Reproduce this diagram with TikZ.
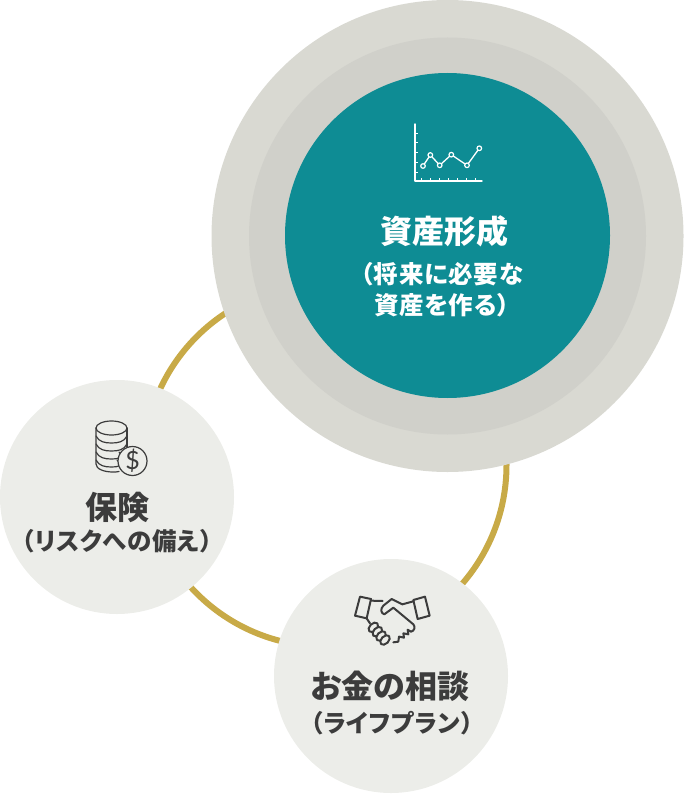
\documentclass[tikz,border=0pt]{standalone}
\usepackage{fontspec}
\setmainfont{Noto Sans CJK JP}[RawFeature=+palt]
\newfontfamily\subfont{Noto Sans CJK JP}[RawFeature=+palt,LetterSpace=3]
\newfontfamily\signfont{Lato}
\usepackage{xcolor}
\usepackage{tikz}
\definecolor{outerc}{HTML}{D9D9D2}
\definecolor{midc}{HTML}{D0D0CA}
\definecolor{tealc}{HTML}{0E8C94}
\definecolor{softc}{HTML}{ECEDE9}
\definecolor{goldc}{HTML}{C8AA47}
\definecolor{inkc}{HTML}{3C3C3C}
\tikzset{ disc/.style = {circle, inner sep=0pt, minimum size=#1} }
\tikzset{ head/.style = {font=\fontsize{32}{36}\selectfont\bfseries, inner sep=0pt} }
\tikzset{ sub/.style = {font=\fontsize{24.5}{31}\subfont\selectfont\bfseries, inner sep=0pt, align=center} }
\tikzset{ icon/.style = {line width=1.6pt, line join=round, line cap=round} }

\begin{document}
\begin{tikzpicture}[x=1pt,y=-1pt]
    \useasboundingbox (0,0) rectangle (684,794);
    \node [disc=363pt, draw=goldc, line width=6pt] (ring) at (325,465) {};
    \node [disc=472pt, fill=outerc] (outer) at (447.5,236) {};
    \node [disc=397pt, fill=midc] (mid) at (447.5,236) {};
    \node [disc=325pt, fill=tealc] (main) at (447.5,235.5) {};
    \node [disc=234pt, fill=softc] (hoken) at (117,497) {};
    \node [disc=234pt, fill=softc] (soudan) at (391,676) {};
    % chart
    \draw [icon, white, line width=1.4pt] (415,124) -- (415,181) -- (482,181);
    \foreach \y in {133.3,143,152.7,162.5,172.3}
        \draw [white, line width=1pt] (415,\y) -- (417.5,\y);
    \foreach \x in {421.7,430.7,439.7,448.7,457.3,466.3,475}
        \draw [white, line width=1pt] (\x,181) -- (\x,178);
    \draw [icon, white, line width=1.3pt] (423,166) -- (430.3,155) -- (439.7,165.3) -- (451.3,154.7) -- (467,165.3) -- (479.3,148.3);
    \foreach \x/\y in {423/166,430.3/155,439.7/165.3,451.3/154.7,467/165.3,479.3/148.3}
        \draw [white, fill=tealc, line width=1.2pt] (\x,\y) circle (2.3);
    % coins
    \draw [icon, inkc, line width=1.2pt] (111.5,428) ellipse (15.5 and 7);
    \draw [icon, inkc, line width=1.2pt] (96,428) -- (96,464)
        .. controls (96,469) and (104,472) .. (113,472) .. controls (115,472) and (117,472) .. (119,471.5);
    \draw [icon, inkc, line width=1.2pt] (127,428) -- (127,447);
    \foreach \y/\e in {436/127,444/127,452/119,460/117}
        \draw [icon, inkc, line width=1.2pt] (96,\y) .. controls (99,\y+6) and (105,\y+7) .. (111.5,\y+7) .. controls (118,\y+7) and (124,\y+6) .. (\e,\y);
    \node [disc=29pt, draw=inkc, fill=softc, line width=1.2pt, text=inkc, font=\fontsize{25}{25}\signfont\selectfont] (coin) at (132.5,461) {\$};
    % handshake
    \begin{scope}[shift={(345,585)}, x=0.3333pt, y=-0.3333pt, icon, inkc, line width=2pt]
        \draw (45,35) -- (78,42) -- (65,100) -- (30,92) -- cycle;
        \draw (205,45) -- (240,35) -- (254,92) -- (218,102) -- cycle;
        \draw (78,47) -- (113,48);
        \draw (205,49) -- (172,58) -- (140,42) -- (115,62) .. controls (105,72) and (108,85) .. (118,88) -- (145,68) -- (205,118) .. controls (212,126) and (208,138) .. (198,140)
            -- (188,134) -- (190,148) -- (175,145) -- (177,158) -- (162,155) -- (160,170) -- (145,172);
        \draw (65,100) -- (75,115);
        \foreach \x/\y in {85/127,97/140,108/153,120/165}
            \draw [rotate around={-45:(\x,\y)}, fill=softc] (\x,\y) ellipse (11 and 17);
    \end{scope}
    % labels
    \node [head, white] (mainhead) at (444,231) {資産形成};
    \node [sub, white] (mainsub) at (442,290) {（将来に必要な\\資産を作る）};
    \node [head, inkc] (hokenhead) at (117,507) {保険};
    \node [sub, inkc] (hokensub) at (117,541) {（リスクへの備え）};
    \node [head, inkc] (soudanhead) at (390,686) {お金の相談};
    \node [sub, inkc] (soudansub) at (392,723) {（ライフプラン）};
\end{tikzpicture}
\end{document}
